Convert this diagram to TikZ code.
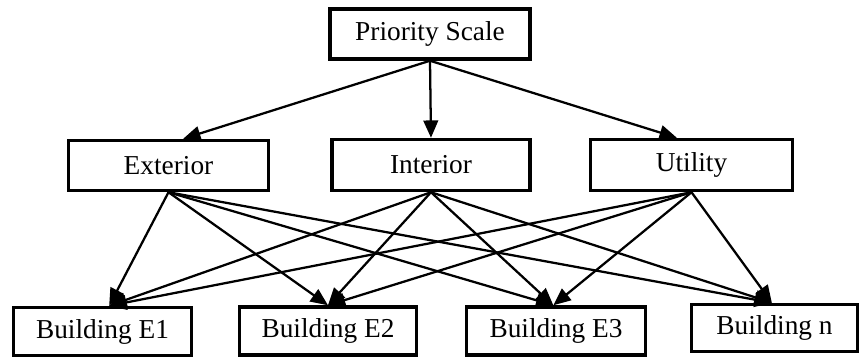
\documentclass[tikz,border=0pt]{standalone}
\usepackage{fontspec}
\setmainfont{Liberation Serif}
\usetikzlibrary{arrows.meta}
\begin{document}
\begin{tikzpicture}[x=0.75pt,y=-0.75pt,
  box/.style={draw,line width=2.6pt,inner sep=0pt,font=\fontsize{20.5}{24}\selectfont},
  arr/.style={line width=1.7pt,-{Triangle[length=13pt,width=11pt]}}]
\useasboundingbox (0,0) rectangle (861,358);
\node[box,minimum width=200*0.75pt,minimum height=50*0.75pt] (ps) at (430,34) {Priority Scale};
\node[box,minimum width=200*0.75pt,minimum height=50*0.75pt] (ext) at (168.5,165.5) {Exterior};
\node[box,minimum width=198*0.75pt,minimum height=51*0.75pt] (int) at (431,165) {Interior};
\node[box,minimum width=202*0.75pt,minimum height=51*0.75pt] (uti) at (691.5,165) {Utility};
\node[box,minimum width=178*0.75pt,minimum height=48*0.75pt] (e1) at (102.5,331.5) {Building E1};
\node[box,minimum width=177*0.75pt,minimum height=48*0.75pt] (e2) at (328,331) {Building E2};
\node[box,minimum width=179*0.75pt,minimum height=48*0.75pt] (e3) at (556,331) {Building E3};
\node[box,minimum width=166*0.75pt,minimum height=47*0.75pt] (en) at (774.5,328) {Building n};
\coordinate (extin) at ([xshift=11pt]ext.north);
\coordinate (utiin) at ([xshift=-11pt]uti.north);
\coordinate (e1in) at ([xshift=5pt]e1.north);
\coordinate (e3in) at ([xshift=-2pt]e3.north);
\coordinate (enin) at ([xshift=-2pt]en.north);
\draw[arr] (ps.south) -- (extin);
\draw[arr] (ps.south) -- (int.north);
\draw[arr] (ps.south) -- (utiin);
\foreach \s in {ext,int,uti}{
  \draw[arr] (\s.south) -- (e1in);
  \draw[arr] (\s.south) -- (e2.north);
  \draw[arr] (\s.south) -- (e3in);
  \draw[arr] (\s.south) -- (enin);
}
\end{tikzpicture}
\end{document}
